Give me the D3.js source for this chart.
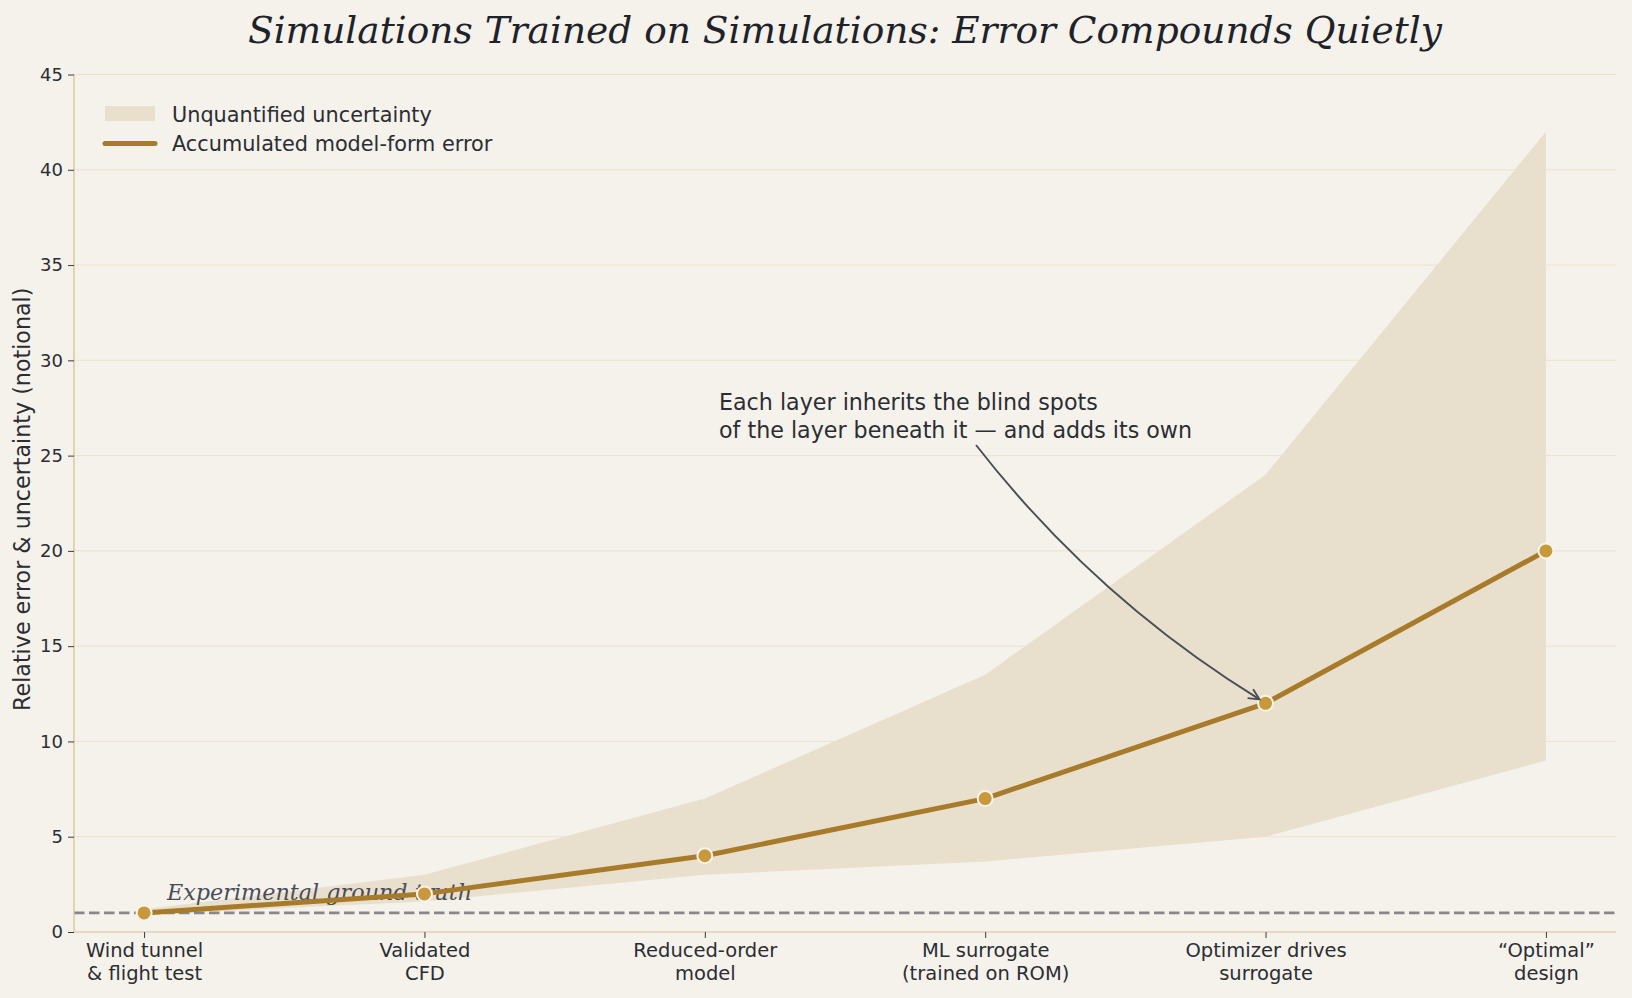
<!DOCTYPE html>
<html><head><meta charset="utf-8">
<script src="https://cdn.jsdelivr.net/npm/d3@7"></script>
<style>
html,body{margin:0;padding:0;background:#f5f2eb;}
svg{display:block;}
</style></head>
<body>
<svg id="chart" width="1632" height="998"></svg>
<script>
const categories = [["Wind tunnel","& flight test"],["Validated","CFD"],["Reduced-order","model"],["ML surrogate","(trained on ROM)"],["Optimizer drives","surrogate"],["\u201cOptimal\u201d","design"]];
const errorValues = [1, 2, 4, 7, 12, 20];
const bandLower = [0.9, 1.6, 3.0, 3.7, 5.0, 9.0];
const bandUpper = [1.2, 3.0, 7.0, 13.5, 24.0, 42.0];
const yTicks = [0, 5, 10, 15, 20, 25, 30, 35, 40, 45];
const groundTruth = 1;

const W = 1632, H = 998;
const m = {left: 74, right: 1616, top: 74.5, bottom: 932};
const svg = d3.select("#chart");
svg.append("rect").attr("width", W).attr("height", H).attr("fill", "#f5f2eb");

const x = d3.scaleLinear().domain([-0.25, categories.length - 0.75]).range([m.left, m.right]);
const y = d3.scaleLinear().domain([0, 45]).range([m.bottom, m.top]);
const idx = d3.range(categories.length);

// grid
svg.append("g").selectAll("line").data(yTicks.filter(d => d > 0)).join("line")
  .attr("x1", m.left).attr("x2", m.right)
  .attr("y1", d => y(d)).attr("y2", d => y(d))
  .attr("stroke", "#ebe2d0").attr("stroke-width", 1);

// band
const area = d3.area().x(i => x(i)).y0(i => y(bandLower[i])).y1(i => y(bandUpper[i]));
svg.append("path").datum(idx).attr("d", area).attr("fill", "#e8dfcd");

// ground truth
svg.append("line").attr("x1", m.left).attr("x2", m.right)
  .attr("y1", y(groundTruth)).attr("y2", y(groundTruth))
  .attr("stroke", "#87878b").attr("stroke-width", 2.7).attr("stroke-dasharray", "10.5,4.5");
svg.append("text").attr("x", 167).attr("y", 900)
  .attr("font-family", "DejaVu Serif").attr("font-style", "italic").attr("font-size", 22.3)
  .attr("fill", "#4a4d58").text("Experimental ground truth");

// axes
const yAxis = d3.axisLeft(y).tickValues(yTicks).tickSize(6).tickPadding(5);
const gy = svg.append("g").attr("transform", `translate(${m.left},0)`).call(yAxis);
gy.select(".domain").attr("stroke", "#d6bf94").attr("stroke-width", 1.2).attr("d", `M0,${m.bottom}V${m.top}`);
gy.selectAll(".tick line").attr("stroke", "#3a3c42");
gy.selectAll(".tick text").attr("font-family", "DejaVu Sans").attr("font-size", 18).attr("fill", "#2b2d33");

const xAxis = d3.axisBottom(x).tickValues(idx).tickSize(6).tickFormat(() => "");
const gx = svg.append("g").attr("transform", `translate(0,${m.bottom})`).call(xAxis);
gx.select(".domain").attr("stroke", "#d6bf94").attr("stroke-width", 1.2).attr("d", `M${m.left},0H${m.right}`);
gx.selectAll(".tick line").attr("stroke", "#3a3c42");
gx.selectAll(".tick").each(function(i) {
  const t = d3.select(this).append("text").attr("text-anchor", "middle")
    .attr("font-family", "DejaVu Sans").attr("font-size", 19.5).attr("fill", "#2b2d33");
  categories[i].forEach((s, k) => t.append("tspan").attr("x", 0).attr("y", 25 + k * 22.5).text(s));
});

// y label
svg.append("text").attr("transform", `translate(30,${(m.top + m.bottom) / 2 - 4}) rotate(-90)`)
  .attr("text-anchor", "middle").attr("font-family", "DejaVu Sans").attr("font-size", 22.2)
  .attr("fill", "#2b2d33").text("Relative error & uncertainty (notional)");

// title
svg.append("text").attr("x", (m.left + m.right) / 2).attr("y", 43).attr("text-anchor", "middle")
  .attr("font-family", "DejaVu Serif").attr("font-style", "italic").attr("font-size", 37.5)
  .attr("fill", "#1f2229").text("Simulations Trained on Simulations: Error Compounds Quietly");

// line
const line = d3.line().x(i => x(i)).y(i => y(errorValues[i]));
svg.append("path").datum(idx).attr("d", line).attr("fill", "none")
  .attr("stroke", "#a87b2a").attr("stroke-width", 5).attr("stroke-linejoin", "round");
svg.append("g").selectAll("circle").data(idx).join("circle")
  .attr("cx", i => x(i)).attr("cy", i => y(errorValues[i])).attr("r", 7.5)
  .attr("fill", "#c8993a").attr("stroke", "#f8f4ea").attr("stroke-width", 2);

// annotation
const ann = svg.append("text").attr("font-family", "DejaVu Sans").attr("font-size", 22.2).attr("fill", "#2b2d33");
["Each layer inherits the blind spots", "of the layer beneath it \u2014 and adds its own"].forEach((s, k) =>
  ann.append("tspan").attr("x", 719).attr("y", 410 + k * 28).text(s));

const tx = x(4), ty = y(errorValues[4]);
const ex = tx - 6, ey = ty - 4;
const sx = 976, sy = 445, cx = 1095, cy = 598;
svg.append("path").attr("d", `M${sx},${sy}Q${cx},${cy} ${ex},${ey}`)
  .attr("fill", "none").attr("stroke", "#4a4d55").attr("stroke-width", 1.9);
const ang = Math.atan2(ey - cy, ex - cx);
const hl = 12, ha = 0.45;
svg.append("path").attr("d",
  `M${ex - hl * Math.cos(ang - ha)},${ey - hl * Math.sin(ang - ha)}L${ex},${ey}L${ex - hl * Math.cos(ang + ha)},${ey - hl * Math.sin(ang + ha)}`)
  .attr("fill", "none").attr("stroke", "#4a4d55").attr("stroke-width", 1.9).attr("stroke-linejoin", "miter");

// legend
svg.append("rect").attr("x", 105).attr("y", 106).attr("width", 50).attr("height", 15).attr("fill", "#e8dfcd");
svg.append("line").attr("x1", 105).attr("x2", 155).attr("y1", 143.5).attr("y2", 143.5)
  .attr("stroke", "#a87b2a").attr("stroke-width", 5).attr("stroke-linecap", "round");
[["Unquantified uncertainty", 114.5], ["Accumulated model-form error", 143.5]].forEach(([s, yy]) =>
  svg.append("text").attr("x", 172).attr("y", yy).attr("dy", "0.35em")
    .attr("font-family", "DejaVu Sans").attr("font-size", 20.8).attr("fill", "#2b2d33").text(s));
</script>
</body></html>
